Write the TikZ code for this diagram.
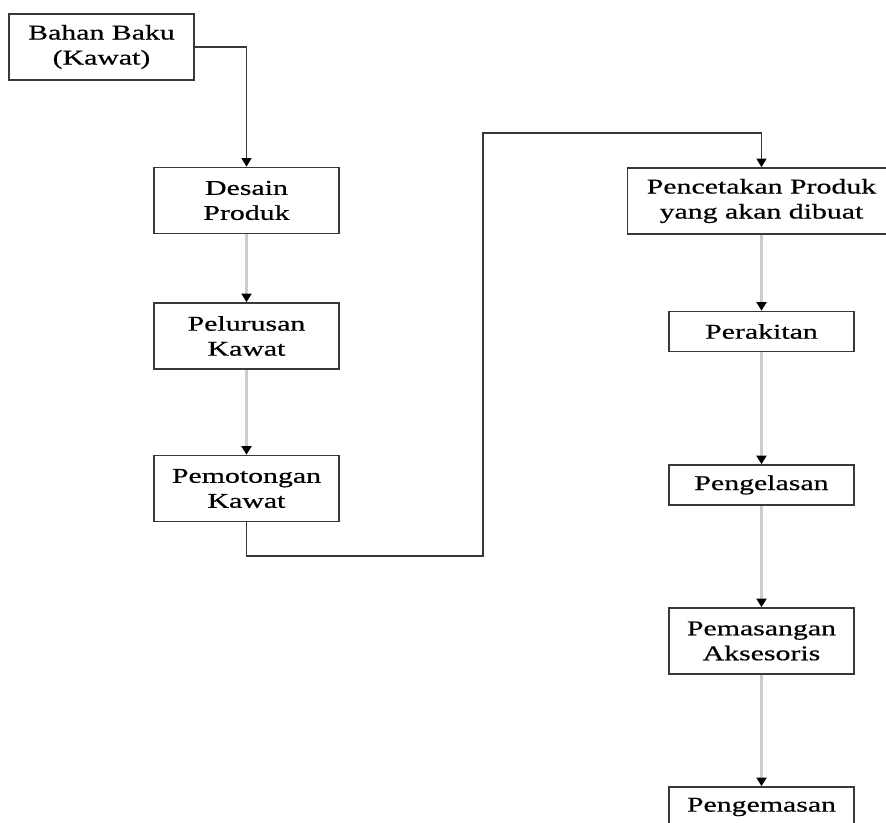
\documentclass[tikz,border=0pt]{standalone}
\usepackage{fontspec}
\setmainfont{Liberation Serif}[FakeStretch=1.42,FakeBold=0.6]
\usetikzlibrary{positioning,arrows.meta}
\newlength{\lwidth}
\setlength{\lwidth}{1.2pt}
\definecolor{boxline}{gray}{0.22}
\definecolor{flowgray}{gray}{0.8}

\tikzset{
  stepbox/.style={draw=boxline,line width=\lwidth,minimum width=138.75pt,
                  align=center,inner sep=0pt,
                  font=\fontsize{15.75}{18.75}\selectfont},
  twoline/.style={minimum height=49.5pt},
  oneline/.style={minimum height=30pt},
  flow/.style={draw=flowgray,line width=1.6pt,
               -{Triangle[color=black,width=7.5pt,length=6.5pt]}},
  link/.style={draw=boxline,line width=\lwidth,
               -{Triangle[color=black,width=7.5pt,length=6.5pt]}}
}

\begin{document}
\begin{tikzpicture}[x=0.75pt,y=-0.75pt]
  \useasboundingbox (0,0) rectangle (886,823);
  \clip (0,0) rectangle (886,823);

  %% left column
  %% ------------------------------------
  \pgfmathsetmacro{\lx}{246.5}
  \node[stepbox,twoline] (b0) at (101.5,47)  {Bahan Baku\\(Kawat)};
  \node[stepbox,twoline] (b1) at (\lx,200.5) {Desain\\Produk};
  \node[stepbox,twoline] (b2) at (\lx,336)   {Pelurusan\\Kawat};
  \node[stepbox,twoline] (b3) at (\lx,488.5) {Pemotongan\\Kawat};

  %% right column
  %% ------------------------------------
  \pgfmathsetmacro{\rx}{761.5}
  \node[stepbox,twoline,minimum width=201pt] (r0) at (\rx,201) {Pencetakan Produk\\yang akan dibuat};
  \node[stepbox,oneline] (r1) at (\rx,331.5) {Perakitan};
  \node[stepbox,oneline] (r2) at (\rx,485)   {Pengelasan};
  \node[stepbox,twoline] (r3) at (\rx,641)   {Pemasangan\\Aksesoris};
  \node[stepbox,oneline] (r4) at (\rx,807)   {Pengemasan};

  %% connectors
  %% ------------------------------------
  \coordinate (k1) at (483,556);
  \coordinate (k2) at (483,133);
  \draw[link] (b0.east) -| (b1.north);
  \draw[flow] (b1) -- (b2);
  \draw[flow] (b2) -- (b3);
  \draw[link] (b3.south) |- (k1) -- (k2) -| (r0.north);
  \draw[flow] (r0) -- (r1);
  \draw[flow] (r1) -- (r2);
  \draw[flow] (r2) -- (r3);
  \draw[flow] (r3) -- (r4);
\end{tikzpicture}
\end{document}
